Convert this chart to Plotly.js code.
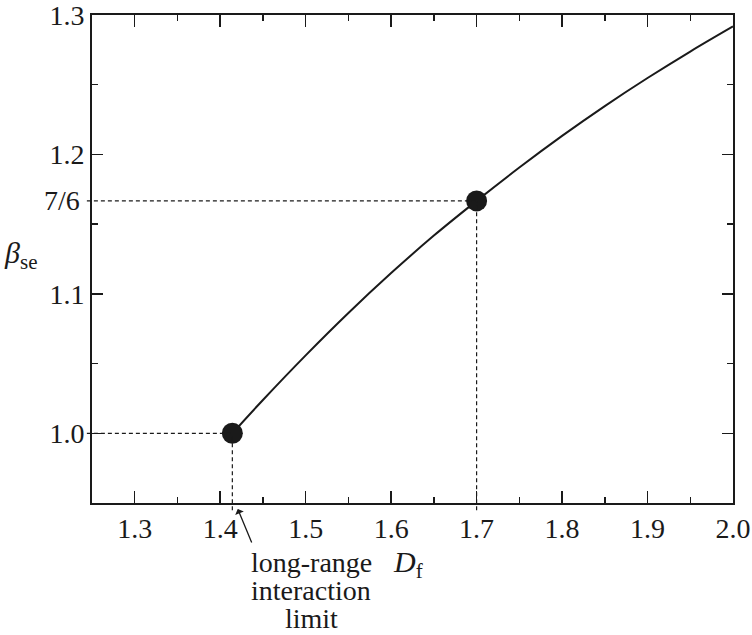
<!DOCTYPE html>
<html>
<head>
<meta charset="utf-8">
<script src="https://cdn.plot.ly/plotly-3.0.1.min.js"></script>
<style>html,body{margin:0;padding:0;background:#fff;}#chart{width:752px;height:635px;}</style>
</head>
<body>
<div id="chart"></div>
<script>
// Curve: beta_se versus D_f
const dfVals = [1.4142, 1.45, 1.5, 1.55, 1.6, 1.65, 1.7, 1.75, 1.8, 1.85, 1.9, 1.95, 2.0];
const betaVals = [1.000, 1.0239, 1.0559, 1.0863, 1.1149, 1.1418, 1.1667, 1.1906, 1.2133, 1.2347, 1.2548, 1.2738, 1.2918];
// Highlighted points
const pointDf = [1.4142, 1.70];
const pointBeta = [1.0, 7 / 6];
// Axis ticks
const xTickVals = [1.3, 1.4, 1.5, 1.6, 1.7, 1.8, 1.9, 2.0];
const xTickText = ['1.3', '1.4', '1.5', '1.6', '1.7', '1.8', '1.9', '2.0'];
const yTickVals = [1.0, 1.1, 1.2, 1.3];
const yTickText = ['1.0', '1.1', '1.2', '1.3'];
// Note under the x axis
const noteLines = ['long-range', 'interaction', 'limit'];

const X_RANGE = [1.25, 2.0];
const Y_RANGE = [0.95, 1.3];
const ink = '#1a1a1a';
const serif = 'Liberation Serif';

function yPaper(v) { return (v - Y_RANGE[0]) / (Y_RANGE[1] - Y_RANGE[0]); }
function xPaper(v) { return (v - X_RANGE[0]) / (X_RANGE[1] - X_RANGE[0]); }

const traces = [
  {
    x: dfVals, y: betaVals, mode: 'lines', type: 'scatter',
    line: {color: ink, width: 2, shape: 'spline', smoothing: 1},
    hoverinfo: 'skip', showlegend: false
  },
  {
    x: pointDf, y: pointBeta, mode: 'markers', type: 'scatter',
    marker: {color: ink, size: 21},
    cliponaxis: false, hoverinfo: 'skip', showlegend: false
  }
];

const shapes = [];
const dashLine = {color: ink, width: 1.2, dash: '4px,3px'};
pointDf.forEach((xv, i) => {
  shapes.push({type: 'line', xref: 'paper', yref: 'y', x0: -0.008, x1: xPaper(xv),
    y0: pointBeta[i], y1: pointBeta[i], line: dashLine});
  shapes.push({type: 'line', xref: 'x', yref: 'paper', x0: xv, x1: xv,
    y0: -0.015, y1: yPaper(pointBeta[i]), line: dashLine});
});

const annotations = [
  {text: '7/6', xref: 'paper', yref: 'y', x: 0, y: 7 / 6, xanchor: 'right', yanchor: 'middle',
    xshift: -10, showarrow: false, font: {family: serif, size: 28, color: ink}},
  {text: '<i>β</i><sub>se</sub>', xref: 'paper', yref: 'paper', x: 0, y: yPaper(1.128),
    xanchor: 'left', yanchor: 'middle', xshift: -90, showarrow: false,
    font: {family: serif, size: 30, color: ink}},
  {text: '<i>D</i><sub>f</sub>', xref: 'x', yref: 'paper', x: 1.62, y: 0,
    xanchor: 'center', yanchor: 'top', yshift: -40, showarrow: false,
    font: {family: serif, size: 30, color: ink}},
  {text: ' ', xref: 'x', yref: 'paper', x: 1.4205, y: 0, yshift: -6,
    axref: 'pixel', ayref: 'pixel', ax: 15, ay: 36,
    showarrow: true, arrowhead: 1, arrowsize: 1.2, arrowwidth: 1.3, arrowcolor: ink, standoff: 0,
    font: {size: 2}}
];
noteLines.forEach((t, i) => {
  annotations.push({text: t, xref: 'x', yref: 'paper', x: 1.5068, y: 0,
    xanchor: 'center', yanchor: 'middle', yshift: -(59 + 28 * i), showarrow: false,
    font: {family: serif, size: 28, color: ink}});
});

const layout = {
  width: 752, height: 635,
  margin: {l: 92, r: 19, t: 15, b: 132},
  paper_bgcolor: '#fff', plot_bgcolor: '#fff',
  showlegend: false,
  font: {family: serif, color: ink, size: 27},
  xaxis: {
    range: X_RANGE, tickmode: 'array', tickvals: xTickVals, ticktext: xTickText,
    ticks: 'inside', ticklen: 12, tickwidth: 1.5, tickcolor: ink,
    minor: {tickmode: 'array', tickvals: [1.35, 1.45, 1.55, 1.65, 1.75, 1.85, 1.95], ticks: 'inside', ticklen: 6, tickwidth: 1.5, tickcolor: ink},
    showline: true, linecolor: ink, linewidth: 1.8, mirror: 'ticks',
    showgrid: false, zeroline: false, ticklabeloverflow: 'allow',
    tickfont: {family: serif, size: 28, color: ink}
  },
  yaxis: {
    range: Y_RANGE, tickmode: 'array', tickvals: yTickVals, ticktext: yTickText,
    ticks: 'inside', ticklen: 11, tickwidth: 1.5, tickcolor: ink,
    minor: {tickmode: 'array', tickvals: [1.05, 1.15, 1.25], ticks: 'inside', ticklen: 6, tickwidth: 1.5, tickcolor: ink},
    showline: true, linecolor: ink, linewidth: 1.8, mirror: 'ticks',
    showgrid: false, zeroline: false, ticklabeloverflow: 'allow',
    tickfont: {family: serif, size: 28, color: ink}
  },
  shapes: shapes,
  annotations: annotations
};

Plotly.newPlot('chart', traces, layout, {staticPlot: true, displayModeBar: false});
</script>
</body>
</html>
